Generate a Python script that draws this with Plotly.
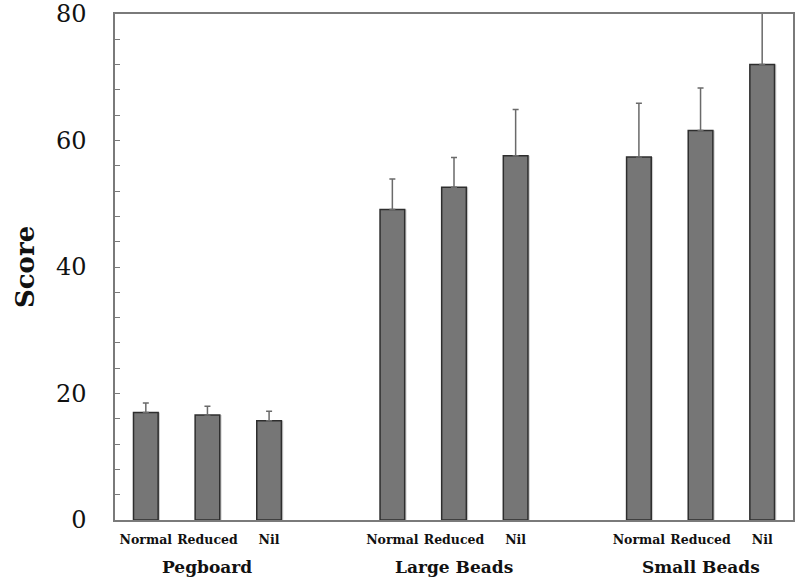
"""Grouped bar chart of scores by task and vision condition, with upper error bars."""
import plotly.graph_objects as go

GROUPS = ["Pegboard", "Large Beads", "Small Beads"]
CONDITIONS = ["Normal", "Reduced", "Nil"]

pegboard_mean = [17.0, 16.6, 15.7]
pegboard_err = [1.5, 1.4, 1.5]
large_beads_mean = [49.1, 52.6, 57.6]
large_beads_err = [4.8, 4.7, 7.3]
small_beads_mean = [57.4, 61.6, 72.0]
small_beads_err = [8.5, 6.7, 10.0]

COLOR_BAR = "#767676"
COLOR_BAR_EDGE = "#2e2e2e"
COLOR_SHADOW = "#cfcfcf"
COLOR_AXIS = "#7a7a7a"
COLOR_TEXT = "#111111"
FONT_SERIF = "DejaVu Serif"

means = [pegboard_mean, large_beads_mean, small_beads_mean]
errors = [pegboard_err, large_beads_err, small_beads_err]

# one empty slot between groups
slot_x, bar_y, bar_err, tick_text = [], [], [], []
for g, group in enumerate(GROUPS):
    for c, cond in enumerate(CONDITIONS):
        slot_x.append(g * 4 + c)
        bar_y.append(means[g][c])
        bar_err.append(errors[g][c])
        tick_text.append(cond)

fig = go.Figure()
# soft drop shadow to the right of each bar
fig.add_trace(go.Bar(
    x=slot_x, y=bar_y, width=0.4, offset=-0.17,
    marker=dict(color=COLOR_SHADOW, line=dict(width=0)),
    hoverinfo="skip", showlegend=False,
))
fig.add_trace(go.Bar(
    x=slot_x,
    y=bar_y,
    width=0.4,
    offset=-0.2,
    marker=dict(color=COLOR_BAR, line=dict(color=COLOR_BAR_EDGE, width=1.5)),
    error_y=dict(type="data", array=bar_err, arrayminus=[0] * len(bar_err),
                 symmetric=False, color="#6a6a6a", thickness=1.5, width=3),
    showlegend=False,
))

for g, group in enumerate(GROUPS):
    fig.add_annotation(
        x=g * 4 + 1, y=0, xref="x", yref="paper", yshift=-47,
        text=f"<b>{group}</b>", showarrow=False, yanchor="middle",
        font=dict(family=FONT_SERIF, size=17, color=COLOR_TEXT),
    )

fig.add_annotation(
    x=0, y=0.5, xref="paper", yref="paper", xshift=-90,
    text="<b>Score</b>", textangle=-90, showarrow=False,
    xanchor="center", yanchor="middle",
    font=dict(family=FONT_SERIF, size=26, color=COLOR_TEXT),
)

fig.update_xaxes(
    range=[-0.5, 10.5],
    tickvals=slot_x,
    ticktext=[f"<b>{t}</b>" for t in tick_text],
    tickfont=dict(family=FONT_SERIF, size=12.5, color=COLOR_TEXT),
    showline=True, linecolor=COLOR_AXIS, linewidth=1.5, mirror=True,
    showgrid=False, zeroline=False, ticks="", automargin=False,
    ticklabelstandoff=7,
)
fig.update_yaxes(
    range=[0, 80],
    dtick=20,
    tickfont=dict(family=FONT_SERIF, size=24, color=COLOR_TEXT),
    ticks="inside", ticklen=5, tickcolor=COLOR_AXIS, tickwidth=1,
    minor=dict(dtick=4, ticks="inside", ticklen=5, tickcolor=COLOR_AXIS, tickwidth=1),
    showline=True, linecolor=COLOR_AXIS, linewidth=1.5, mirror=True,
    showgrid=False, zeroline=False, automargin=False,
    ticklabelstandoff=22, ticklabeloverflow="allow",
)
fig.update_layout(
    width=800, height=583,
    plot_bgcolor="white", paper_bgcolor="white",
    margin=dict(l=115, r=7, t=14, b=63),
    barmode="overlay",
)

# drop the default 8px page margin so the figure sits at the window's corner
fig.write_html(
    "out.html",
    config={"displayModeBar": False},
    post_script="document.body.style.margin = '0';",
)
